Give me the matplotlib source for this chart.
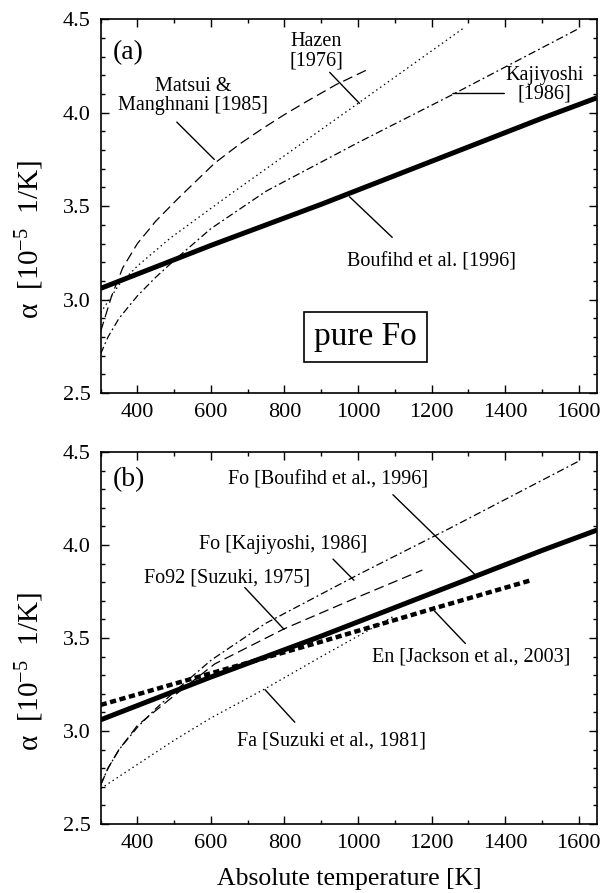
import matplotlib
matplotlib.use("Agg")
import matplotlib.pyplot as plt
from matplotlib.ticker import MultipleLocator

plt.rcParams['font.family'] = ['Liberation Serif', 'DejaVu Serif']
plt.rcParams['mathtext.fontset'] = 'custom'
plt.rcParams['mathtext.rm'] = 'Liberation Serif'
plt.rcParams['mathtext.it'] = 'Liberation Serif:italic'

# temperature [K] and alpha [10^-5 1/K]
T_bouf = [300, 600, 900, 1200, 1500, 1650]
a_bouf = [3.06, 3.29, 3.51, 3.74, 3.97, 4.08]

T_matsui = [300, 330, 360, 400, 450, 510, 610, 680, 740, 800, 860, 940, 1025]
a_matsui = [2.83, 3.02, 3.17, 3.30, 3.42, 3.54, 3.73, 3.835, 3.915, 3.99,
            4.06, 4.15, 4.23]

T_hazen = [300, 350, 400, 490, 650, 800, 1000, 1285]
a_hazen = [2.93, 3.08, 3.18, 3.33, 3.56, 3.77, 4.05, 4.45]

T_kaji = [300, 320, 350, 400, 450, 500, 600, 750, 1000, 1250, 1600]
a_kaji = [2.71, 2.80, 2.90, 3.02, 3.12, 3.21, 3.38, 3.58, 3.84, 4.09, 4.45]

T_fo92 = [300, 320, 350, 400, 500, 610, 800, 1000, 1175]
a_fo92 = [2.71, 2.80, 2.90, 3.03, 3.19, 3.36, 3.55, 3.72, 3.865]

T_fa = [300, 400, 500, 600, 750, 900, 1000, 1100]
a_fa = [2.69, 2.82, 2.95, 3.07, 3.23, 3.40, 3.51, 3.62]

T_en = [300, 600, 900, 1200, 1470]
a_en = [3.14, 3.31, 3.48, 3.655, 3.81]

# labels: text, text position, leader line start, leader line end
labels_a = [
    ("Hazen\n[1976]", (887, 4.33), (923, 4.216), (1004, 4.05)),
    ("Matsui &\nManghnani [1985]", (552, 4.09), (507, 3.95), (609, 3.75)),
    ("Kajiyoshi\n[1986]", (1507, 4.15), (1258, 4.103), (1398, 4.103)),
    ("Boufihd et al. [1996]", (1199, 3.20), (977, 3.55), (1093, 3.333)),
]
labels_b = [
    ("Fo [Boufihd et al., 1996]", (919, 4.35), (1095, 4.27), (1317, 3.843)),
    ("Fo [Kajiyoshi, 1986]", (796, 4.0), (932, 3.924), (989, 3.81)),
    ("Fo92 [Suzuki, 1975]", (643, 3.825), (692, 3.771), (799, 3.546)),
    ("En [Jackson et al., 2003]", (1308, 3.40), (1208, 3.645), (1292, 3.47)),
    ("Fa [Suzuki et al., 1981]", (928, 2.946), (747, 3.222), (828, 3.047)),
]

fig = plt.figure(figsize=(6.15, 8.93), dpi=100)
ax_a = fig.add_axes([0.1637, 0.5599, 0.807, 0.4185])
ax_b = fig.add_axes([0.1637, 0.0773, 0.807, 0.4166])


def style_axes(ax):
    ax.set_xlim(300, 1650)
    ax.set_ylim(2.5, 4.5)
    ax.xaxis.set_major_locator(MultipleLocator(200))
    ax.xaxis.set_minor_locator(MultipleLocator(100))
    ax.yaxis.set_major_locator(MultipleLocator(0.5))
    ax.yaxis.set_minor_locator(MultipleLocator(0.1))
    ax.set_xticks([400, 600, 800, 1000, 1200, 1400, 1600])
    ax.yaxis.set_major_formatter(matplotlib.ticker.FormatStrFormatter('%.1f'))
    ax.tick_params(which='both', direction='in', top=True, right=True,
                   labelsize=16, width=1.0)
    ax.tick_params(which='major', length=6, pad=7)
    ax.tick_params(which='minor', length=3)
    for s in ax.spines.values():
        s.set_linewidth(1.2)
    ax.set_ylabel('α  [10$^{-5}$  1/K]', fontsize=21)
    ax.yaxis.set_label_coords(-0.11, 0.41)


def add_labels(ax, labels):
    for text, pos, p0, p1 in labels:
        ax.text(pos[0], pos[1], text, fontsize=14.5, ha='center', va='center',
                linespacing=1.0)
        ax.annotate('', xy=p1, xytext=p0,
                    arrowprops=dict(arrowstyle='-', lw=1.0, color='black',
                                    shrinkA=0, shrinkB=0))


# panel (a)
ax_a.plot(T_bouf, a_bouf, color='black', lw=3.6, solid_capstyle='butt')
ax_a.plot(T_matsui, a_matsui, color='black', lw=0.9, dashes=(8, 4))
ax_a.plot(T_hazen, a_hazen, color='black', lw=0.9, dashes=(1.2, 2.6))
ax_a.plot(T_kaji, a_kaji, color='black', lw=0.9, dashes=(6, 2.5, 1.5, 2.5))
style_axes(ax_a)
add_labels(ax_a, labels_a)
ax_a.text(376, 4.32, "(a)", fontsize=20, ha='center', va='center')
ax_a.text(1020, 2.80, "pure Fo", fontsize=24, ha='center', va='center',
          bbox=dict(boxstyle='square,pad=0.3', fc='white', ec='black', lw=1.2))

# panel (b)
ax_b.plot(T_bouf, a_bouf, color='black', lw=3.6, solid_capstyle='butt')
ax_b.plot(T_kaji, a_kaji, color='black', lw=0.9, dashes=(6, 2.5, 1.5, 2.5))
ax_b.plot(T_fo92, a_fo92, color='black', lw=0.9, dashes=(8, 4))
ax_b.plot(T_fa, a_fa, color='black', lw=0.9, dashes=(1.2, 2.6))
ax_b.plot(T_en, a_en, color='black', lw=3.2, dashes=(1.4, 0.8))
style_axes(ax_b)
add_labels(ax_b, labels_b)
ax_b.text(376, 4.35, "(b)", fontsize=20, ha='center', va='center')
ax_b.set_xlabel("Absolute temperature [K]", fontsize=18.5, labelpad=11)

fig.savefig("out.png", dpi=100)
